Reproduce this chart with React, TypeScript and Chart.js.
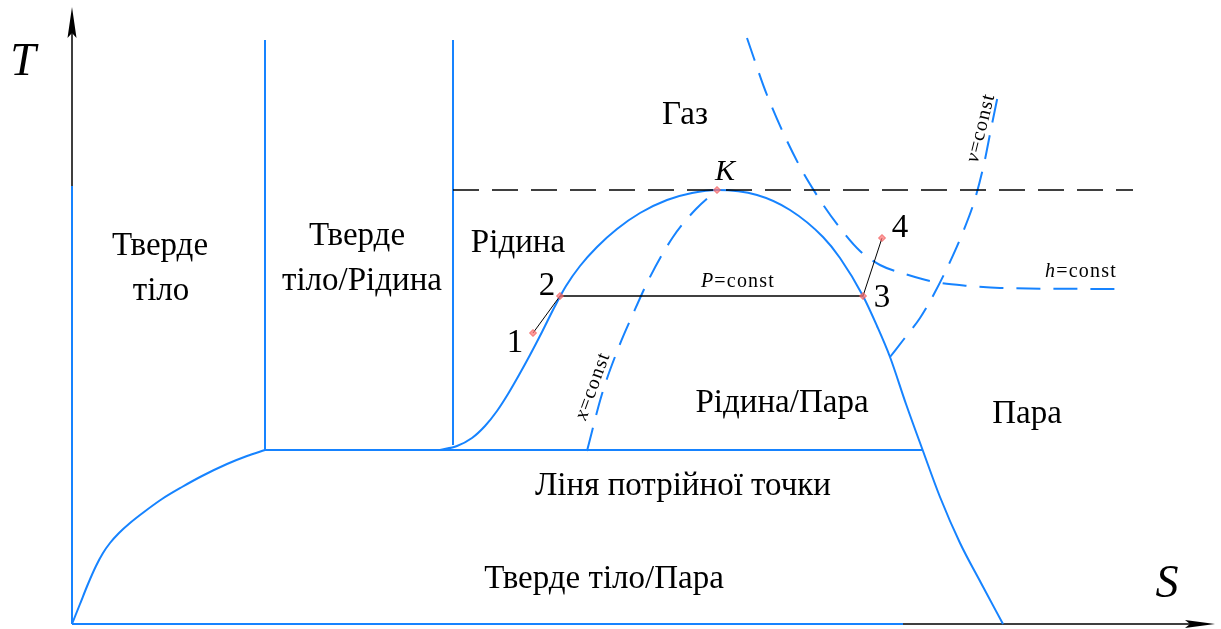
import { useEffect, useRef } from "react";
import { Chart, registerables } from "chart.js";

Chart.register(...registerables);

// Coordinates are (S, T) in diagram units, origin at the axes' corner.
const solidBoundary = [[0, 0], [0, 438]];
const sublimationCurve = [
  [0, 0], [8, 20], [16, 40], [24, 58], [31, 71], [38, 81], [47, 91],
  [58, 101], [72, 112], [90, 125], [110, 137], [130, 148], [155, 160],
  [175, 168], [193, 174],
];
const meltingLine = [[193, 174], [193, 584]];
const liquidBoundary = [[381, 179], [381, 584]];
const triplePointLine = [[193, 174], [851, 174]];
const baseLine = [[0, 0], [831, 0]];
const saturationDome = [
  [368, 174], [385, 178], [400, 186], [413, 198], [425, 213], [436, 230],
  [447, 249], [458, 269], [470, 292], [482, 316], [494, 338], [508, 358],
  [525, 377], [545, 395], [568, 411], [595, 424], [620, 431], [645, 434],
  [685, 429], [718, 414], [751, 387], [768, 366], [791, 328],
  [805, 298], [818, 267], [834, 220], [851, 173], [868, 127],
  [888, 81], [909, 41], [931, 0],
];
const qualityLine = [
  [515, 173], [530, 230], [546, 275], [561, 310], [577, 345],
  [601, 387], [624, 415], [645, 434],
];
const enthalpyLine = [
  [675, 586], [695, 529], [726, 461], [748, 424], [768, 396], [788, 373],
  [808, 359], [833, 350], [863, 342], [898, 338], [928, 336], [1045, 335],
];
const volumeLine = [
  [818, 267], [832, 285], [848, 306], [862, 330], [877, 360],
  [891, 392], [903, 425], [912, 460], [919, 495], [926, 529],
];
const isobar = [[488, 328], [791, 328]];
const process12 = [[461, 291], [488, 328]];
const process34 = [[791, 328], [810, 386]];
const criticalIsotherm = [[381, 434], [1061, 434]];
const statePoints = [[461, 291], [488, 328], [791, 328], [810, 386], [645, 434]];

// Axis extents
const sAxisEnd = 1143;
const tAxisEnd = 617;

type Part = { text: string; italic?: boolean };
type Label = { parts: Part[]; s: number; t: number; size: number; angle?: number; spacing?: number };

const labels: Label[] = [
  { parts: [{ text: "Тверде" }], s: 88, t: 369, size: 33 },
  { parts: [{ text: "тіло" }], s: 89, t: 324, size: 33 },
  { parts: [{ text: "Тверде" }], s: 285, t: 379, size: 33 },
  { parts: [{ text: "тіло/Рідина" }], s: 290, t: 334, size: 33 },
  { parts: [{ text: "Газ" }], s: 613, t: 500, size: 33 },
  { parts: [{ text: "Рідина" }], s: 446, t: 372, size: 33 },
  { parts: [{ text: "Рідина/Пара" }], s: 710, t: 212, size: 33 },
  { parts: [{ text: "Пара" }], s: 955, t: 201, size: 33 },
  { parts: [{ text: "Ліня потрійної точки" }], s: 611, t: 129, size: 33 },
  { parts: [{ text: "Тверде тіло/Пара" }], s: 532, t: 36, size: 33 },
  { parts: [{ text: "K", italic: true }], s: 653, t: 444, size: 30 },
  { parts: [{ text: "1" }], s: 443, t: 272, size: 33 },
  { parts: [{ text: "2" }], s: 475, t: 329, size: 33 },
  { parts: [{ text: "3" }], s: 810, t: 317, size: 33 },
  { parts: [{ text: "4" }], s: 828, t: 387, size: 33 },
  { parts: [{ text: "T", italic: true }], s: -49, t: 549, size: 46 },
  { parts: [{ text: "S", italic: true }], s: 1095, t: 27, size: 46 },
  { parts: [{ text: "P", italic: true }, { text: "=const" }], s: 666, t: 337, size: 20, spacing: 1.2 },
  { parts: [{ text: "h", italic: true }, { text: "=const" }], s: 1009, t: 347, size: 20, spacing: 1.2 },
  { parts: [{ text: "v", italic: true }, { text: "=const" }], s: 909, t: 496, size: 20, spacing: 1.2, angle: -76 },
  { parts: [{ text: "x", italic: true }, { text: "=const" }], s: 521, t: 238, size: 20, spacing: 1.2, angle: -70 },
];

const BLUE = "#1683ff";
const FONT = "'Liberation Serif', 'Times New Roman', serif";

const toPts = (a: number[][]) => a.map(([x, y]) => ({ x, y }));

const diagramPlugin = {
  id: "tsDiagram",
  beforeDatasetsDraw(chart: any) {
    const { ctx, scales } = chart;
    const px = (s: number) => scales.x.getPixelForValue(s);
    const py = (t: number) => scales.y.getPixelForValue(t);
    ctx.save();
    ctx.strokeStyle = "#000";
    ctx.fillStyle = "#000";
    ctx.lineWidth = 1.5;
    ctx.beginPath();
    ctx.moveTo(px(0), py(0));
    ctx.lineTo(px(0), py(tAxisEnd - 10));
    ctx.moveTo(px(0), py(0));
    ctx.lineTo(px(sAxisEnd - 10), py(0));
    ctx.stroke();
    // arrowheads
    ctx.beginPath();
    ctx.moveTo(px(0), py(tAxisEnd));
    ctx.lineTo(px(0) - 4.5, py(tAxisEnd) + 31);
    ctx.lineTo(px(0), py(tAxisEnd) + 26);
    ctx.lineTo(px(0) + 4.5, py(tAxisEnd) + 31);
    ctx.closePath();
    ctx.fill();
    ctx.beginPath();
    ctx.moveTo(px(sAxisEnd), py(0));
    ctx.lineTo(px(sAxisEnd) - 30, py(0) - 4);
    ctx.lineTo(px(sAxisEnd) - 25, py(0));
    ctx.lineTo(px(sAxisEnd) - 30, py(0) + 4);
    ctx.closePath();
    ctx.fill();
    ctx.restore();
  },
  afterDatasetsDraw(chart: any) {
    const { ctx, scales } = chart;
    ctx.save();
    ctx.fillStyle = "#000";
    ctx.textBaseline = "alphabetic";
    ctx.textAlign = "left";
    for (const lb of labels) {
      const x = scales.x.getPixelForValue(lb.s);
      const y = scales.y.getPixelForValue(lb.t);
      const fontOf = (p: Part) => `${p.italic ? "italic " : ""}${lb.size}px ${FONT}`;
      (ctx as any).letterSpacing = `${lb.spacing ?? 0}px`;
      let total = 0;
      const widths = lb.parts.map((p) => {
        ctx.font = fontOf(p);
        const w = ctx.measureText(p.text).width;
        total += w;
        return w;
      });
      ctx.save();
      ctx.translate(x, y);
      if (lb.angle) {
        ctx.rotate((lb.angle * Math.PI) / 180);
        ctx.textBaseline = "middle";
      }
      let cx = -total / 2;
      lb.parts.forEach((p, i) => {
        ctx.font = fontOf(p);
        ctx.fillText(p.text, cx, 0);
        cx += widths[i];
      });
      ctx.restore();
    }
    (ctx as any).letterSpacing = "0px";
    ctx.restore();
  },
};

function line(data: number[][], color: string, width: number, dash: number[] = [], smooth = false) {
  return {
    type: "line" as const,
    data: toPts(data),
    borderColor: color,
    borderWidth: width,
    borderDash: dash,
    pointRadius: 0,
    fill: false,
    showLine: true,
    clip: false as any,
    tension: smooth ? 0.4 : 0,
    cubicInterpolationMode: smooth ? ("monotone" as const) : ("default" as const),
  };
}

export default function App() {
  const ref = useRef<HTMLCanvasElement | null>(null);

  useEffect(() => {
    if (!ref.current) return;
    const chart = new Chart(ref.current, {
      type: "scatter",
      data: {
        datasets: [
          {
            type: "scatter",
            data: toPts(statePoints),
            pointStyle: "rectRot",
            pointRadius: 3.5,
            backgroundColor: "rgba(255,120,120,0.75)",
            borderColor: "rgba(235,80,80,0.8)",
            borderWidth: 1,
            clip: false as any,
          } as any,
          line(process12, "#000", 1),
          line(process34, "#000", 1),
          line(isobar, "#000", 1.3),
          line(criticalIsotherm, "#000", 1.3, [26, 13]),
          line(solidBoundary, BLUE, 2),
          line(baseLine, BLUE, 2),
          line(sublimationCurve, BLUE, 2, [], true),
          line(meltingLine, BLUE, 2),
          line(liquidBoundary, BLUE, 2),
          line(triplePointLine, BLUE, 2),
          line(saturationDome, BLUE, 2, [], true),
          line(qualityLine, BLUE, 2, [24, 13], true),
          line(enthalpyLine, BLUE, 2, [24, 13], true),
          line(volumeLine, BLUE, 2, [24, 13], true),
        ],
      },
      options: {
        animation: false,
        responsive: false,
        maintainAspectRatio: false,
        layout: { padding: 0, autoPadding: false },
        plugins: { legend: { display: false }, tooltip: { enabled: false } },
        events: [],
        scales: {
          x: { type: "linear", min: -72, max: 1149, display: false },
          y: { type: "linear", min: -5, max: 624, display: false },
        },
      },
      plugins: [diagramPlugin],
    });
    return () => chart.destroy();
  }, []);

  return (
    <div style={{ position: "absolute", left: 0, top: 0, width: 1221, height: 629, background: "#fff" }}>
      <canvas ref={ref} width={1221} height={629} />
    </div>
  );
}
